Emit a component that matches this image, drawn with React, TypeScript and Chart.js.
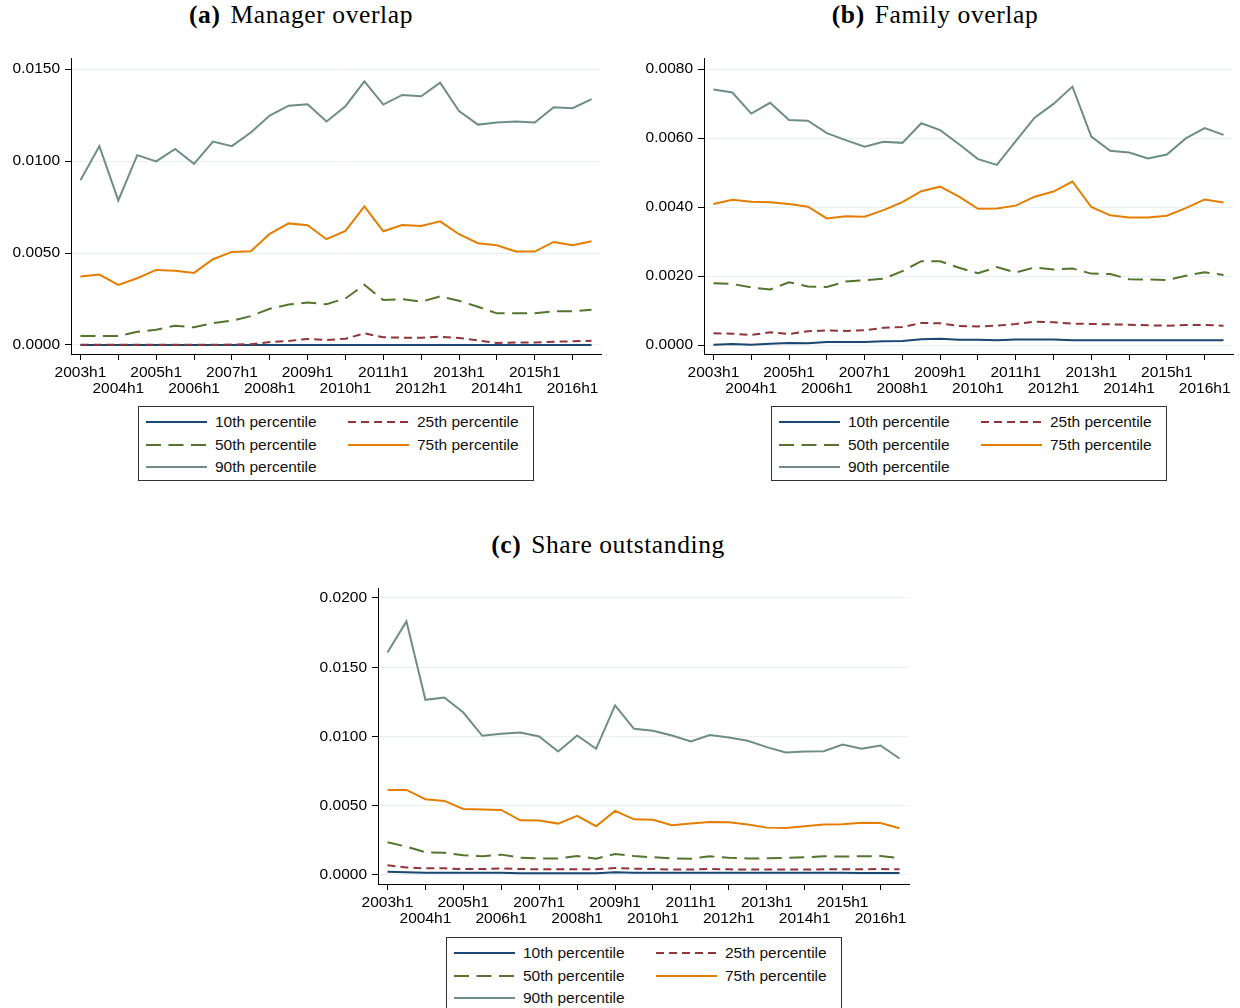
import React, { useEffect, useRef } from 'react';
import { Chart, registerables } from 'chart.js';

Chart.register(...registerables);

// ---------- data ----------
const periods = [
  '2003h1', '2003h2', '2004h1', '2004h2', '2005h1', '2005h2', '2006h1', '2006h2',
  '2007h1', '2007h2', '2008h1', '2008h2', '2009h1', '2009h2', '2010h1', '2010h2',
  '2011h1', '2011h2', '2012h1', '2012h2', '2013h1', '2013h2', '2014h1', '2014h2',
  '2015h1', '2015h2', '2016h1', '2016h2',
];

const seriesNames = ['10th percentile', '25th percentile', '50th percentile', '75th percentile', '90th percentile'];

// (a) Manager overlap
const managerP10 = [0, 0, 0, 0, 0, 0, 0, 0, 0, 0, 0, 0, 0, 0, 0, 0, 0, 0, 0, 0, 0, 0, 0, 0, 0, 0, 0, 0];
const managerP25 = [0.00001, 0.00001, 0.00001, 0.00001, 0.00001, 0.00001, 0.00001, 0.00001, 0.00002, 0.00004, 0.00016, 0.00022, 0.00033, 0.00027, 0.00034, 0.00063, 0.00042, 0.0004, 0.0004, 0.00045, 0.00038, 0.00025, 0.00011, 0.00013, 0.00014, 0.00018, 0.0002, 0.00023];
const managerP50 = [0.00049, 0.00049, 0.00049, 0.00072, 0.00083, 0.00105, 0.00096, 0.00119, 0.00132, 0.00157, 0.00197, 0.0022, 0.00231, 0.00222, 0.00253, 0.00327, 0.00244, 0.00249, 0.00235, 0.00264, 0.0024, 0.00208, 0.00172, 0.00172, 0.00172, 0.00183, 0.00183, 0.00192];
const managerP75 = [0.00372, 0.00383, 0.00327, 0.00363, 0.00408, 0.00403, 0.00392, 0.00466, 0.00506, 0.0051, 0.00604, 0.00661, 0.00651, 0.00575, 0.0062, 0.00754, 0.00618, 0.00652, 0.00647, 0.00672, 0.00602, 0.00553, 0.00542, 0.00508, 0.00508, 0.0056, 0.00542, 0.00564];
const managerP90 = [0.00895, 0.01081, 0.00786, 0.01032, 0.00998, 0.01066, 0.00985, 0.01106, 0.01081, 0.01155, 0.01247, 0.01301, 0.01309, 0.01215, 0.01298, 0.01433, 0.01307, 0.01359, 0.01352, 0.01426, 0.01271, 0.01198, 0.01209, 0.01215, 0.01209, 0.01292, 0.01287, 0.01336];

// (b) Family overlap
const familyP10 = [0.00001, 0.00003, 0.00001, 0.00004, 0.00006, 0.00005, 0.00009, 0.00009, 0.00009, 0.00011, 0.00012, 0.00017, 0.00018, 0.00015, 0.00015, 0.00014, 0.00016, 0.00016, 0.00016, 0.00014, 0.00014, 0.00014, 0.00014, 0.00014, 0.00014, 0.00014, 0.00014, 0.00014];
const familyP25 = [0.00034, 0.00033, 0.00029, 0.00037, 0.00032, 0.0004, 0.00042, 0.00041, 0.00043, 0.0005, 0.00052, 0.00064, 0.00063, 0.00055, 0.00054, 0.00056, 0.00061, 0.00068, 0.00066, 0.00062, 0.00061, 0.0006, 0.00059, 0.00057, 0.00056, 0.00058, 0.00058, 0.00056];
const familyP50 = [0.00179, 0.00177, 0.00167, 0.00161, 0.00182, 0.0017, 0.00168, 0.00184, 0.00188, 0.00192, 0.00214, 0.00243, 0.00243, 0.00224, 0.00208, 0.00226, 0.0021, 0.00225, 0.00219, 0.00222, 0.00207, 0.00206, 0.00191, 0.0019, 0.00188, 0.00201, 0.00211, 0.00203];
const familyP75 = [0.00409, 0.00421, 0.00415, 0.00414, 0.00409, 0.00401, 0.00367, 0.00373, 0.00372, 0.00391, 0.00414, 0.00446, 0.00459, 0.0043, 0.00395, 0.00396, 0.00404, 0.0043, 0.00445, 0.00474, 0.004, 0.00376, 0.0037, 0.0037, 0.00375, 0.00397, 0.00422, 0.00413];
const familyP90 = [0.00741, 0.00732, 0.00671, 0.00702, 0.00652, 0.0065, 0.00614, 0.00594, 0.00575, 0.00589, 0.00586, 0.00643, 0.00623, 0.00582, 0.00539, 0.00522, 0.00591, 0.00659, 0.00699, 0.00749, 0.00604, 0.00563, 0.00558, 0.00541, 0.00552, 0.00599, 0.00629, 0.00609];

// (c) Share outstanding
const shareP10 = [0.00024, 0.00019, 0.00017, 0.00017, 0.00017, 0.00017, 0.00017, 0.00012, 0.00012, 0.00012, 0.00012, 0.00012, 0.00019, 0.00017, 0.00017, 0.00017, 0.00017, 0.00017, 0.00017, 0.00017, 0.00017, 0.00016, 0.00016, 0.00016, 0.00016, 0.00015, 0.00015, 0.00014];
const shareP25 = [0.0007, 0.00055, 0.00048, 0.00048, 0.00043, 0.00043, 0.00048, 0.00043, 0.00041, 0.00041, 0.00041, 0.00041, 0.00051, 0.00046, 0.00043, 0.00039, 0.00039, 0.00043, 0.00041, 0.00039, 0.00039, 0.00039, 0.00039, 0.00041, 0.00041, 0.00041, 0.00043, 0.00041];
const shareP50 = [0.00236, 0.00205, 0.00164, 0.00161, 0.00142, 0.00135, 0.00147, 0.00125, 0.0012, 0.0012, 0.00137, 0.00118, 0.00152, 0.00137, 0.00128, 0.0012, 0.00118, 0.00135, 0.00125, 0.0012, 0.0012, 0.00123, 0.00128, 0.00135, 0.00133, 0.00135, 0.00137, 0.00123];
const shareP75 = [0.00614, 0.00614, 0.00547, 0.00535, 0.00477, 0.00472, 0.0047, 0.00395, 0.00393, 0.00371, 0.00427, 0.00352, 0.00463, 0.00402, 0.00398, 0.00359, 0.00371, 0.00383, 0.00381, 0.00364, 0.00342, 0.0034, 0.00352, 0.00364, 0.00366, 0.00378, 0.00376, 0.00337];
const shareP90 = [0.01607, 0.01831, 0.01265, 0.01282, 0.01173, 0.01005, 0.01019, 0.01029, 0.01, 0.00892, 0.01007, 0.00911, 0.01224, 0.01055, 0.01041, 0.01007, 0.00964, 0.0101, 0.00993, 0.00969, 0.00923, 0.00884, 0.00892, 0.00894, 0.00942, 0.00911, 0.00935, 0.00841];

// y-axis tick values
const managerTicks = [0, 0.005, 0.01, 0.015];
const familyTicks = [0, 0.002, 0.004, 0.006, 0.008];
const shareTicks = [0, 0.005, 0.01, 0.015, 0.02];

// ---------- styles ----------
const seriesColors = ['#1a476f', '#90353b', '#55752f', '#e37e00', '#6e8e84'];
const seriesDashes: number[][] = [[], [8, 5], [15, 7.5], [], []];
const TICK_FONT = { family: "'Liberation Sans', Arial, Helvetica, sans-serif", size: 15.5, lineHeight: 1.08 };
const GRID_COLOR = '#e8f0f1';

type PanelProps = {
  left: number; top: number; width: number; height: number;
  yAxisWidth: number; padRight: number;
  yMin: number; yMax: number; yTicks: number[];
  series: number[][];
};

function Panel(p: PanelProps) {
  const ref = useRef<HTMLCanvasElement | null>(null);
  useEffect(() => {
    if (!ref.current) return;
    const chart = new Chart(ref.current, {
      type: 'line',
      data: {
        labels: periods,
        datasets: seriesNames.map((name, i) => ({
          label: name,
          data: p.series[i],
          borderColor: seriesColors[i],
          backgroundColor: seriesColors[i],
          borderDash: seriesDashes[i],
          borderWidth: 2,
          pointRadius: 0,
          fill: false,
          tension: 0,
          order: 5 - i,
        })),
      },
      options: {
        animation: false,
        responsive: false,
        maintainAspectRatio: false,
        events: [],
        layout: { padding: { top: 18, right: p.padRight, left: 0, bottom: 0 } },
        plugins: { legend: { display: false }, tooltip: { enabled: false }, title: { display: false } },
        scales: {
          x: {
            type: 'category',
            offset: true,
            afterBuildTicks: (axis: any) => {
              axis.ticks = axis.ticks.filter((t: any) => t.value % 2 === 0);
            },
            afterFit: (scale: any) => { scale.height = 56; },
            ticks: {
              autoSkip: false,
              maxRotation: 0,
              minRotation: 0,
              padding: 4,
              color: '#000',
              font: TICK_FONT,
              callback: (value: any) => {
                const v = Number(value);
                const lab = periods[v];
                return (v / 2) % 2 === 0 ? [lab] : ['', lab];
              },
            },
            grid: { drawOnChartArea: false, drawTicks: true, tickLength: 6, tickColor: '#000', color: '#000' },
            border: { display: true, color: '#000', width: 1 },
          },
          y: {
            type: 'linear',
            min: p.yMin,
            max: p.yMax,
            afterBuildTicks: (axis: any) => {
              axis.ticks = p.yTicks.map((v) => ({ value: v }));
            },
            afterFit: (scale: any) => { scale.width = p.yAxisWidth; },
            ticks: {
              padding: 5,
              color: '#000',
              font: TICK_FONT,
              callback: (value: any) => Number(value).toFixed(4),
            },
            grid: { color: GRID_COLOR, lineWidth: 1, drawTicks: true, tickLength: 6, tickColor: '#000' },
            border: { display: true, color: '#000', width: 1 },
          },
        },
      },
    } as any);
    return () => chart.destroy();
  }, []);
  return (
    <canvas
      ref={ref}
      width={p.width}
      height={p.height}
      style={{ position: 'absolute', left: p.left, top: p.top, width: p.width, height: p.height }}
    />
  );
}

function LegendSample({ i }: { i: number }) {
  return (
    <svg width={61} height={6} style={{ position: 'absolute', left: 0, top: -3 }}>
      <line x1={0} y1={3} x2={61} y2={3} stroke={seriesColors[i]} strokeWidth={2}
        strokeDasharray={seriesDashes[i].length ? seriesDashes[i].join(' ') : undefined} />
    </svg>
  );
}

function Legend({ left, top }: { left: number; top: number }) {
  const cells = [
    { i: 0, col: 0, row: 0 },
    { i: 1, col: 1, row: 0 },
    { i: 2, col: 0, row: 1 },
    { i: 3, col: 1, row: 1 },
    { i: 4, col: 0, row: 2 },
  ];
  const rowY = [16, 39, 61];
  const colX = [7, 209];
  return (
    <div style={{ position: 'absolute', left, top, width: 396, height: 75, border: '1px solid #333', boxSizing: 'border-box', background: '#fff' }}>
      {cells.map((c) => (
        <div key={c.i} style={{ position: 'absolute', left: colX[c.col], top: rowY[c.row] - 1 }}>
          <LegendSample i={c.i} />
          <span style={{
            position: 'absolute', left: 69, top: -9, whiteSpace: 'nowrap',
            fontFamily: "'Liberation Sans', Arial, Helvetica, sans-serif", fontSize: 15.5, lineHeight: '18px', color: '#111',
          }}>{seriesNames[c.i]}</span>
        </div>
      ))}
    </div>
  );
}

function Title({ cx, cy, tag, text }: { cx: number; cy: number; tag: string; text: string }) {
  return (
    <div style={{
      position: 'absolute', left: cx - 250, top: cy - 15, width: 500, height: 30, lineHeight: '30px',
      textAlign: 'center', fontFamily: "'Liberation Serif', 'Times New Roman', serif", fontSize: 25.5,
      letterSpacing: '0.6px', color: '#000', whiteSpace: 'nowrap',
    }}>
      <b>({tag})</b><span style={{ marginLeft: 10 }}>{text}</span>
    </div>
  );
}

export default function App() {
  return (
    <div style={{ position: 'absolute', left: 0, top: 0, width: 1240, height: 1008, background: '#fff', overflow: 'hidden' }}>
      <Title cx={301} cy={15} tag="a" text="Manager overlap" />
      <Title cx={935} cy={15} tag="b" text="Family overlap" />
      <Title cx={608} cy={545} tag="c" text="Share outstanding" />

      <Panel left={0} top={40} width={620} height={370} yAxisWidth={71} padRight={19}
        yMin={-0.00049} yMax={0.0156} yTicks={managerTicks}
        series={[managerP10, managerP25, managerP50, managerP75, managerP90]} />
      <Panel left={630} top={40} width={610} height={370} yAxisWidth={74} padRight={7}
        yMin={-0.00026} yMax={0.00832} yTicks={familyTicks}
        series={[familyP10, familyP25, familyP50, familyP75, familyP90]} />
      <Panel left={300} top={570} width={620} height={370} yAxisWidth={78} padRight={11}
        yMin={-0.00065} yMax={0.02072} yTicks={shareTicks}
        series={[shareP10, shareP25, shareP50, shareP75, shareP90]} />

      <Legend left={138} top={406} />
      <Legend left={771} top={406} />
      <Legend left={446} top={937} />
    </div>
  );
}
